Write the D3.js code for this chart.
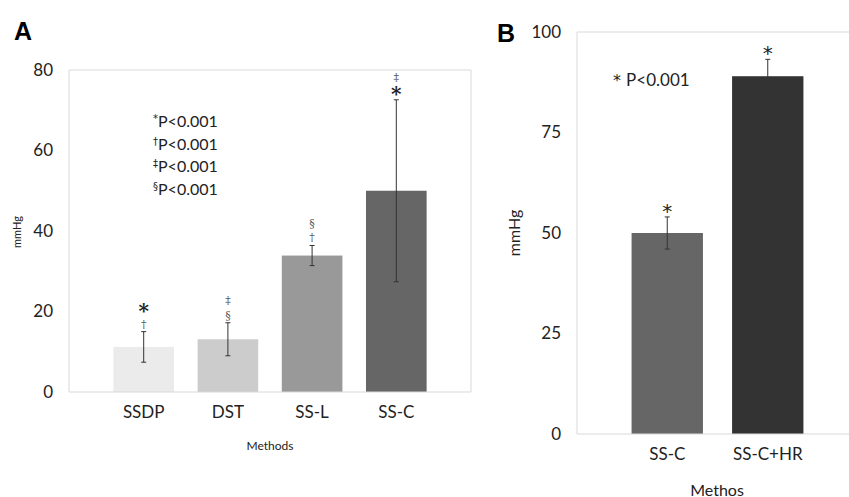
<!DOCTYPE html>
<html>
<head>
<meta charset="utf-8">
<script src="https://cdn.jsdelivr.net/npm/d3@7"></script>
<style>
  body { margin: 0; background: #fff; }
  svg { display: block; font-family: "Lato", "Open Sans", sans-serif; }
</style>
</head>
<body>
<svg width="849" height="497"></svg>
<script>
// panel A
const methodsA = ['SSDP', 'DST', 'SS-L', 'SS-C'];
const meansA = [11.2, 13.1, 33.9, 50];
const errA = [3.8, 4.1, 2.5, 22.6];
// symbols from the error bar upwards
const marksA = [['†', '*'], ['§', '‡'], ['†', '§'], ['*', '‡']];
const colorsA = ['#ebebeb', '#cccccc', '#999999', '#666666'];
const ticksA = [0, 20, 40, 60, 80];
const legendA = ['*', '†', '‡', '§'];

// panel B
const methodsB = ['SS-C', 'SS-C+HR'];
const meansB = [50, 89];
const errB = [4, 4.2];
const colorsB = ['#666666', '#333333'];
const ticksB = [0, 25, 50, 75, 100];

const svg = d3.select('svg');
const textCol = '#222';
const gridCol = '#d9d9d9';

function panel(opt) {
    const g = svg.append('g');
    const x = d3.scaleBand()
        .domain(opt.cats)
        .range([opt.left, opt.right])
        .paddingInner(opt.pi)
        .paddingOuter(opt.po);
    const y = d3.scaleLinear().domain([0, opt.max]).range([opt.bottom, opt.top]);

    // frame
    g.append('line').attr('x1', opt.left).attr('x2', opt.frameRight)
        .attr('y1', opt.top).attr('y2', opt.top).attr('stroke', gridCol);
    g.append('line').attr('x1', opt.left).attr('x2', opt.left)
        .attr('y1', opt.top).attr('y2', opt.bottom).attr('stroke', gridCol);
    if (opt.frameRight < 849) {
        g.append('line').attr('x1', opt.frameRight).attr('x2', opt.frameRight)
            .attr('y1', opt.top).attr('y2', opt.bottom).attr('stroke', gridCol);
    }

    // bars
    g.selectAll('.bar').data(opt.cats).enter().append('rect')
        .attr('x', d => x(d))
        .attr('y', (d, i) => y(opt.means[i]))
        .attr('width', x.bandwidth())
        .attr('height', (d, i) => y(0) - y(opt.means[i]))
        .attr('fill', (d, i) => opt.colors[i]);

    g.append('line').attr('x1', opt.left).attr('x2', opt.frameRight)
        .attr('y1', opt.bottom).attr('y2', opt.bottom).attr('stroke', gridCol);

    // error bars
    const eb = g.selectAll('.eb').data(opt.cats).enter().append('g')
        .attr('stroke', '#333').attr('stroke-width', 1);
    const cx = d => x(d) + x.bandwidth() / 2;
    eb.append('line').attr('x1', cx).attr('x2', cx)
        .attr('y1', (d, i) => y(opt.means[i] - opt.err[i]))
        .attr('y2', (d, i) => y(opt.means[i] + opt.err[i]));
    [-1, 1].forEach(s => {
        eb.append('line').attr('x1', d => cx(d) - 2.5).attr('x2', d => cx(d) + 2.5)
            .attr('y1', (d, i) => y(opt.means[i] + s * opt.err[i]))
            .attr('y2', (d, i) => y(opt.means[i] + s * opt.err[i]));
    });

    // y axis
    const yAxis = d3.axisLeft(y).tickValues(opt.ticks).tickSize(0).tickPadding(16);
    const ya = g.append('g').attr('transform', `translate(${opt.left},0)`).call(yAxis);
    ya.select('.domain').remove();
    ya.selectAll('text').attr('font-size', '17px').attr('fill', textCol)
        .attr('font-family', 'Lato, sans-serif');

    // x axis
    const xAxis = d3.axisBottom(x).tickSize(0).tickPadding(14);
    const xa = g.append('g').attr('transform', `translate(0,${opt.bottom})`).call(xAxis);
    xa.select('.domain').remove();
    xa.selectAll('text').attr('font-size', '17px').attr('fill', textCol)
        .attr('font-family', 'Lato, sans-serif');

    return { g, x, y, cx };
}

// ---- A ----
const A = panel({
    cats: methodsA, means: meansA, err: errA, colors: colorsA, ticks: ticksA,
    left: 69, right: 471, frameRight: 471, top: 70, bottom: 392, max: 80,
    pi: 0.28, po: 0.527
});

methodsA.forEach((m, i) => {
    const top = A.y(meansA[i] + errA[i]);
    marksA[i].forEach((s, k) => {
        const star = s === '*';
        const centre = top - 8 - k * 14.5;
        A.g.append('text')
            .attr('x', A.cx(m))
            .attr('y', centre + (star ? 9 : 4))
            .attr('text-anchor', 'middle')
            .attr('font-family', 'DejaVu Serif, serif')
            .attr('font-size', star ? '20px' : '11px')
            .attr('font-weight', star ? 'bold' : 'normal')
            .attr('fill', star ? '#222' : '#555')
            .text(s);
    });
});

legendA.forEach((s, i) => {
    const t = A.g.append('text')
        .attr('x', 153)
        .attr('y', 127 + i * 22.5)
        .attr('font-size', '16px')
        .attr('fill', textCol);
    t.append('tspan').attr('font-size', '10px').attr('dy', '-5')
        .attr('font-family', 'DejaVu Sans, sans-serif').text(s);
    t.append('tspan').attr('dy', '5').text('P<0.001');
});

A.g.append('text').attr('transform', 'translate(21,232) rotate(-90)')
    .attr('text-anchor', 'middle').attr('font-size', '11px').attr('fill', textCol)
    .text('mmHg');
A.g.append('text').attr('x', 270).attr('y', 450)
    .attr('text-anchor', 'middle').attr('font-size', '12px').attr('fill', textCol)
    .text('Methods');
svg.append('text').attr('x', 14).attr('y', 40)
    .attr('font-size', '25px').attr('font-weight', 'bold')
    .attr('font-family', 'Liberation Sans, Arial, sans-serif').attr('fill', '#000')
    .text('A');

// ---- B ----
const B = panel({
    cats: methodsB, means: meansB, err: errB, colors: colorsB, ticks: ticksB,
    left: 577, right: 858, frameRight: 860, top: 32, bottom: 434, max: 100,
    pi: 0.29, po: 0.543
});

methodsB.forEach((m, i) => {
    B.g.append('text')
        .attr('x', B.cx(m))
        .attr('y', B.y(meansB[i] + errB[i]) + 1)
        .attr('text-anchor', 'middle')
        .attr('font-family', 'DejaVu Sans, sans-serif')
        .attr('font-size', '20px')
        .attr('fill', textCol)
        .text('*');
});

const legB = B.g.append('text').attr('x', 613).attr('y', 86)
    .attr('font-size', '17px').attr('fill', textCol);
legB.append('tspan').attr('font-family', 'DejaVu Sans, sans-serif').attr('font-size', '16px').text('* ');
legB.append('tspan').text('P<0.001');

B.g.append('text').attr('transform', 'translate(520,233) rotate(-90)')
    .attr('text-anchor', 'middle').attr('font-size', '16px').attr('fill', textCol)
    .text('mmHg');
B.g.append('text').attr('x', 717).attr('y', 496)
    .attr('text-anchor', 'middle').attr('font-size', '16px').attr('fill', textCol)
    .text('Methos');
svg.append('text').attr('x', 497).attr('y', 42)
    .attr('font-size', '25px').attr('font-weight', 'bold')
    .attr('font-family', 'Liberation Sans, Arial, sans-serif').attr('fill', '#000')
    .text('B');
</script>
</body>
</html>
